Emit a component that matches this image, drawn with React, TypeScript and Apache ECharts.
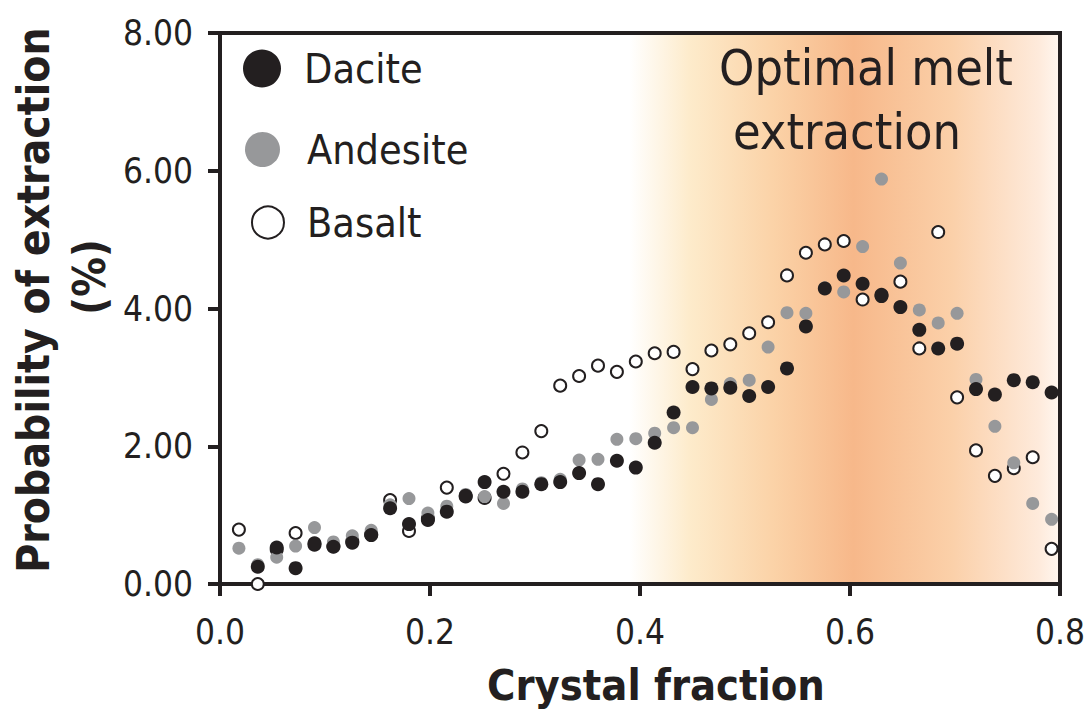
import React, { useEffect, useRef } from 'react';
import * as echarts from 'echarts';

// Crystal fraction (x) for each sample
const crystalFraction = [
  0.018, 0.036, 0.054, 0.072, 0.090, 0.108, 0.126, 0.144, 0.162, 0.180, 0.198,
  0.216, 0.234, 0.252, 0.270, 0.288, 0.306, 0.324, 0.342, 0.360, 0.378, 0.396,
  0.414, 0.432, 0.450, 0.468, 0.486, 0.504, 0.522, 0.540, 0.558, 0.576, 0.594,
  0.612, 0.630, 0.648, 0.666, 0.684, 0.702, 0.720, 0.738, 0.756, 0.774, 0.792,
];

// Probability of extraction (%)
const dacite: (number | null)[] = [
  null, 0.25, 0.53, 0.23, 0.59, 0.54, 0.60, 0.71, 1.10, 0.87, 0.93,
  1.05, 1.28, 1.48, 1.34, 1.34, 1.45, 1.48, 1.61, 1.45, 1.79, 1.69,
  2.05, 2.49, 2.86, 2.84, 2.85, 2.73, 2.86, 3.13, 3.74, 4.29, 4.48,
  4.36, 4.18, 4.02, 3.69, 3.42, 3.49, 2.83, 2.75, 2.96, 2.93, 2.78,
];

const andesite: (number | null)[] = [
  0.52, 0.28, 0.39, 0.55, 0.82, 0.61, 0.70, 0.78, 1.15, 1.24, 1.03,
  1.13, 1.30, 1.27, 1.17, 1.38, 1.47, 1.52, 1.80, 1.81, 2.10, 2.11,
  2.19, 2.27, 2.27, 2.68, 2.91, 2.96, 3.44, 3.94, 3.93, 4.30, 4.24,
  4.90, 5.88, 4.66, 3.98, 3.79, 3.93, 2.97, 2.29, 1.76, 1.17, 0.94,
];

const basalt: (number | null)[] = [
  0.79, 0.00, 0.50, 0.74, 0.57, 0.55, 0.62, 0.72, 1.22, 0.77, 0.95,
  1.40, 1.27, 1.25, 1.60, 1.91, 2.22, 2.88, 3.02, 3.17, 3.08, 3.23,
  3.35, 3.37, 3.12, 3.39, 3.48, 3.64, 3.80, 4.48, 4.81, 4.93, 4.98,
  4.13, 4.20, 4.39, 3.42, 5.11, 2.71, 1.94, 1.57, 1.68, 1.84, 0.51,
];

const optimalRange = [0.39, 0.8];
const seriesNames = ['Dacite', 'Andesite', 'Basalt'];

const INK = '#231f20';
const GREY = '#97989a';
const FONT = "'DejaVu Sans Condensed', 'DejaVu Sans', sans-serif";

function pairs(ys: (number | null)[]) {
  const out: number[][] = [];
  crystalFraction.forEach((x, i) => {
    const y = ys[i];
    if (y !== null && y !== undefined) out.push([x, y]);
  });
  return out;
}

export default function App() {
  const ref = useRef<HTMLDivElement>(null);

  useEffect(() => {
    if (!ref.current) return;
    const chart = echarts.init(ref.current, undefined, { renderer: 'svg' });

    const band = new echarts.graphic.LinearGradient(0, 0, 1, 0, [
      { offset: 0, color: '#ffffff' },
      { offset: 0.14, color: '#fdebcb' },
      { offset: 0.33, color: '#fbd3a8' },
      { offset: 0.52, color: '#f7b88a' },
      { offset: 0.75, color: '#fbd0a9' },
      { offset: 0.95, color: '#feeadb' },
      { offset: 1, color: '#fff7f0' },
    ]);

    const legendText = (pad: number) => ({
      color: INK,
      fontFamily: FONT,
      fontSize: 41,
      padding: [0, 0, 0, pad],
    });

    chart.setOption({
      animation: false,
      backgroundColor: '#ffffff',
      grid: {
        left: 220,
        right: 32,
        top: 33,
        bottom: 125,
        show: true,
        borderColor: INK,
        borderWidth: 4,
        z: 1.5,
      },
      legend: [
        {
          data: [seriesNames[0]],
          left: 243,
          top: 48,
          orient: 'vertical',
          padding: 0,
          icon: 'circle',
          itemWidth: 38,
          itemHeight: 38,
          selectedMode: false,
          itemStyle: { color: INK, borderWidth: 0 },
          textStyle: { ...legendText(18), lineHeight: 38 },
        },
        {
          data: [seriesNames[1]],
          left: 245,
          top: 129,
          orient: 'vertical',
          padding: 0,
          icon: 'circle',
          itemWidth: 35,
          itemHeight: 35,
          selectedMode: false,
          itemStyle: { color: GREY, borderWidth: 0 },
          textStyle: { ...legendText(22), lineHeight: 35 },
        },
        {
          data: [seriesNames[2]],
          left: 251,
          top: 202,
          orient: 'vertical',
          padding: 0,
          icon: 'circle',
          itemWidth: 32,
          itemHeight: 32,
          selectedMode: false,
          itemStyle: { color: '#ffffff', borderColor: INK, borderWidth: 2 },
          textStyle: { ...legendText(18), lineHeight: 32 },
        },
      ],
      xAxis: {
        type: 'value',
        min: 0,
        max: 0.8,
        interval: 0.2,
        z: 1.5,
        splitLine: { show: false },
        axisLine: { show: true, lineStyle: { color: INK, width: 4 } },
        axisTick: { show: true, inside: false, length: 12, lineStyle: { color: INK, width: 4 } },
        axisLabel: {
          color: INK,
          fontFamily: FONT,
          fontSize: 35,
          margin: 30,
          formatter: (v: number) => v.toFixed(1),
        },
      },
      yAxis: {
        type: 'value',
        min: 0,
        max: 8,
        interval: 2,
        z: 1.5,
        splitLine: { show: false },
        axisLine: { show: true, lineStyle: { color: INK, width: 4 } },
        axisTick: { show: true, inside: false, length: 12, lineStyle: { color: INK, width: 4 } },
        axisLabel: {
          color: INK,
          fontFamily: FONT,
          fontSize: 35,
          margin: 27,
          formatter: (v: number) => v.toFixed(2),
        },
      },
      graphic: [
        {
          type: 'text',
          x: 866,
          y: 68,
          z: 5,
          style: {
            text: 'Optimal melt',
            fill: INK,
            fontFamily: FONT,
            fontSize: 50,
            textAlign: 'center',
            textVerticalAlign: 'middle',
          },
        },
        {
          type: 'text',
          x: 847,
          y: 132,
          z: 5,
          style: {
            text: 'extraction',
            fill: INK,
            fontFamily: FONT,
            fontSize: 50,
            textAlign: 'center',
            textVerticalAlign: 'middle',
          },
        },
        {
          type: 'text',
          x: 656,
          y: 685,
          style: {
            text: 'Crystal fraction',
            fill: INK,
            fontFamily: FONT,
            fontWeight: 'bold',
            fontSize: 43,
            textAlign: 'center',
            textVerticalAlign: 'middle',
          },
        },
        {
          type: 'text',
          x: 33,
          y: 300,
          rotation: Math.PI / 2,
          style: {
            text: 'Probability of extraction',
            fill: INK,
            fontFamily: FONT,
            fontWeight: 'bold',
            fontSize: 44,
            textAlign: 'center',
            textVerticalAlign: 'middle',
          },
        },
        {
          type: 'text',
          x: 89,
          y: 277,
          rotation: Math.PI / 2,
          style: {
            text: '(%)',
            fill: INK,
            fontFamily: FONT,
            fontWeight: 'bold',
            fontSize: 44,
            textAlign: 'center',
            textVerticalAlign: 'middle',
          },
        },
      ],
      series: [
        {
          name: seriesNames[2],
          type: 'scatter',
          data: pairs(basalt),
          symbol: 'circle',
          symbolSize: 12,
          itemStyle: { color: '#ffffff', borderColor: INK, borderWidth: 2, opacity: 1 },
          markArea: {
            silent: true,
            data: [[{ xAxis: optimalRange[0] }, { xAxis: optimalRange[1] }]],
            itemStyle: { color: band, opacity: 1 },
          },
        },
        {
          name: seriesNames[1],
          type: 'scatter',
          data: pairs(andesite),
          symbol: 'circle',
          symbolSize: 13,
          itemStyle: { color: GREY, opacity: 1 },
        },
        {
          name: seriesNames[0],
          type: 'scatter',
          data: pairs(dacite),
          symbol: 'circle',
          symbolSize: 14,
          itemStyle: { color: INK, opacity: 1 },
        },
      ],
    });

    return () => chart.dispose();
  }, []);

  return (
    <div
      ref={ref}
      style={{ position: 'fixed', left: 0, top: 0, width: 1092, height: 709 }}
    />
  );
}
